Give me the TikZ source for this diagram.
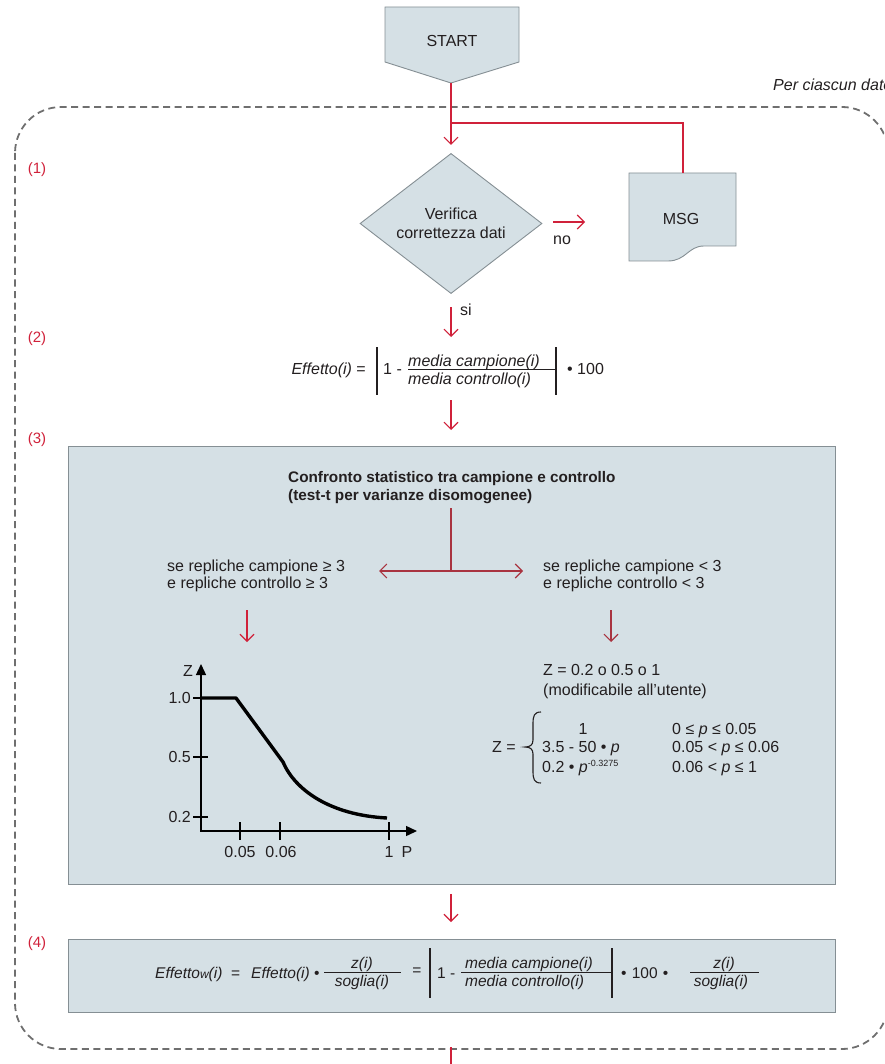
\documentclass[tikz,border=0pt]{standalone}
\usepackage{fontspec}
\setmainfont{Liberation Sans}
\usetikzlibrary{arrows.meta,shapes.geometric,calc}
\definecolor{boxfill}{HTML}{D5E0E5}
\definecolor{boxline}{HTML}{858F94}
\definecolor{flowred}{HTML}{D0213A}
\definecolor{tred}{HTML}{A93440}
\definecolor{dashgray}{HTML}{6F6F6F}
\definecolor{txt}{HTML}{231F20}
\begin{document}
\begin{tikzpicture}[x=1pt,y=-1pt,
 every node/.style={text=txt, inner sep=0pt, font=\fontsize{16}{19}\selectfont},
 shapebox/.style={draw=boxline, fill=boxfill, line width=0.9pt},
 redline/.style={draw=flowred, line width=1.1pt},
 redarrow/.style={redline, -{Straight Barb[length=7pt,width=14pt]}},
 tline/.style={draw=tred, line width=1.1pt},
 tarrow/.style={tline, -{Straight Barb[length=7pt,width=14pt]}},
 stepnum/.style={text=flowred, font=\fontsize{15}{17}\selectfont},
 fracbar/.style={draw=txt, line width=0.8pt},
 absbar/.style={draw=txt, line width=1.1pt},
 axisline/.style={draw=black, line width=1.4pt},
 tickline/.style={draw=black, line width=2.4pt},
 curveline/.style={draw=black, line width=3.4pt, line join=round},
 dashborder/.style={draw=dashgray, line width=1.8pt, dash pattern=on 7pt off 4.5pt, rounded corners=46pt},
 lbl/.style={anchor=base west},
 smallf/.style={font=\fontsize{15.5}{18}\selectfont},
]
\useasboundingbox (0,0) rectangle (884,1064);
\clip (0,0) rectangle (884,1064);

% loop border
\draw[dashborder] (15,107) rectangle (888,1049);
\node[anchor=base west, font=\fontsize{16}{19}\selectfont\itshape] (loop) at (773,91) {Per ciascun dato};

% step numbers
\node[stepnum] (n1) at (37,170) {(1)};
\node[stepnum] (n2) at (37,339) {(2)};
\node[stepnum] (n3) at (37,440) {(3)};
\node[stepnum] (n4) at (37,944) {(4)};

% START
\draw[shapebox] (385,7) -- (519,7) -- (519,62) -- (451,83) -- (385,62) -- cycle;
\node (start) at (452,41) {START};
\coordinate (starttip) at (451,83);
\coordinate (branch) at (451,123);

% decision
\node[diamond, shapebox, minimum width=182pt, minimum height=139pt, align=center] (ver) at (451,223.5) {Verifica\\correttezza dati};

% MSG document
\draw[shapebox] (629,173) -- (736,173) -- (736,246) -- (704,246) .. controls (688,246) and (686,261) .. (668,261) -- (629,261) -- cycle;
\node (msg) at (681,219) {MSG};
\coordinate (msgtop) at (683,173);

\draw[redarrow, shorten >=8pt] (starttip) -- (ver.north);
\draw[redline] (branch) -| (msgtop);

% no
\coordinate (nostart) at (553,222);
\coordinate (noend) at (585,222);
\draw[redarrow] (nostart) -- (noend);
\node (no) at (562,240) {no};

% si
\coordinate (f2top) at (451,346);
\coordinate (f2bot) at (451,395);
\draw[redarrow, shorten <=13pt, shorten >=9pt] (ver.south) -- (f2top);
\node (si) at (466,310) {si};

% formula (2)
\node[anchor=base east] (eff) at (366,374) {\itshape Effetto(i)\upshape\ =};
\draw[absbar] (377,347) -- (377,395);
\node[lbl] (one) at (383,374) {1 -};
\node[anchor=base west] (num) at (408,366) {\itshape media campione(i)};
\node[anchor=base west] (den) at (408,384.5) {\itshape media controllo(i)};
\draw[fracbar] (408,369.5) -- (556,369.5);
\draw[absbar] (556,347) -- (556,395);
\node[lbl] (cent) at (567,374) {• 100};

% box 3
\node[shapebox, anchor=north west, minimum width=767pt, minimum height=438pt] (b3) at (68,446) {};
\draw[redarrow, shorten <=5pt, shorten >=16pt] (f2bot) -- (b3.north -| f2bot);

\node[anchor=base west, font=\fontsize{15.3}{18}\selectfont\bfseries] (t1) at (288,482.5) {Confronto statistico tra campione e controllo};
\node[anchor=base west, font=\fontsize{15.3}{18}\selectfont\bfseries] (t2) at (288,500.5) {(test-t per varianze disomogenee)};

\coordinate (ttop) at (451,508);
\coordinate (tsplit) at (451,571);
\coordinate (tl) at (379,571);
\coordinate (tr) at (523,571);
\draw[tline] (ttop) -- (tsplit);
\draw[tarrow] (tsplit) -- (tl);
\draw[tarrow] (tsplit) -- (tr);

\node[lbl] (l1) at (167,571) {se repliche campione ≥ 3};
\node[lbl] (l2) at (167,588) {e repliche controllo ≥ 3};
\node[lbl] (r1) at (543,571) {se repliche campione < 3};
\node[lbl] (r2) at (543,588) {e repliche controllo < 3};

\coordinate (la0) at (247,610);
\coordinate (la1) at (247,642);
\coordinate (ra0) at (611,610);
\coordinate (ra1) at (611,642);
\draw[redarrow] (la0) -- (la1);
\draw[tarrow] (ra0) -- (ra1);

% graph
\draw[axisline, -{Triangle[length=11pt,width=10pt]}] (201,831) -- (201,664);
\draw[axisline, -{Triangle[length=11pt,width=10pt]}] (200.3,831) -- (417,831);
\foreach \yy in {698,757,817} \draw[tickline] (193,\yy) -- (208,\yy);
\foreach \xx in {240,280,389} \draw[tickline] (\xx,822) -- (\xx,840);
\node[anchor=east] (y10) at (191,698) {1.0};
\node[anchor=east] (y05) at (191,757) {0.5};
\node[anchor=east] (y02) at (191,817) {0.2};
\node (x005) at (240,852) {0.05};
\node (x006) at (281,852) {0.06};
\node (x1) at (389,852) {1};
\node (xp) at (407,852) {P};
\node (zl) at (188,671) {Z};
\draw[curveline] (201,698) -- (236,698) -- (283,762) .. controls (295,790) and (330,815) .. (387,818);

% right column
\node[lbl] (z1) at (543,675) {Z = 0.2 o 0.5 o 1};
\node[lbl] (z2) at (543,695) {(modificabile all’utente)};
\node[lbl] (zeq) at (492,752.5) {Z =};
\draw[draw=txt, line width=1.1pt] (541,712) .. controls (534,712) and (533,716) .. (533,724) -- (533,740) .. controls (533,745) and (530,747) .. (525,747) .. controls (530,747) and (533,749) .. (533,754) -- (533,771) .. controls (533,779) and (534,783) .. (541,783);
\node[anchor=base] (c1) at (583,734) {1};
\node[lbl] (c2) at (542,752.5) {3.5 - 50 • \textit{p}};
\node[lbl] (c3) at (542,772) {0.2 • \textit{p}\raisebox{6pt}{\fontsize{9}{10}\selectfont -0.3275}};
\node[lbl] (d1) at (672,734) {0 ≤ \textit{p} ≤ 0.05};
\node[lbl] (d2) at (672,752.5) {0.05 < \textit{p} ≤ 0.06};
\node[lbl] (d3) at (672,772) {0.06 < \textit{p} ≤ 1};

% box 4
\node[shapebox, anchor=north west, minimum width=767pt, minimum height=73pt] (b4) at (68,939) {};
\draw[redarrow, shorten <=9pt, shorten >=17pt] (b3.south -| ttop) -- (b4.north -| ttop);

\node[anchor=base west, smallf] (e1) at (155,978) {\itshape Effetto{\fontsize{12}{12}\selectfont w}(i)\upshape\ \ =};
\node[anchor=base west, smallf] (e2) at (251,978) {\itshape Effetto(i)\upshape\ •};
\node[anchor=base, smallf] (e3n) at (362,968) {\itshape z(i)};
\node[anchor=base, smallf] (e3d) at (362,986) {\itshape soglia(i)};
\draw[fracbar] (324,972.5) -- (401,972.5);
\node[smallf] (e4) at (417,972) {=};
\draw[absbar] (430,948) -- (430,998);
\node[anchor=base west, smallf] (e5) at (437,978) {1 -};
\node[anchor=base west, smallf] (e6n) at (465,968) {\itshape media campione(i)};
\node[anchor=base west, smallf] (e6d) at (465,986) {\itshape media controllo(i)};
\draw[fracbar] (461,972.5) -- (612,972.5);
\draw[absbar] (612,948) -- (612,998);
\node[anchor=base west, smallf] (e7) at (621,978) {•\,\,100\,\,•};
\node[anchor=base, smallf] (e8n) at (724,968) {\itshape z(i)};
\node[anchor=base, smallf] (e8d) at (721,986) {\itshape soglia(i)};
\draw[fracbar] (690,972.5) -- (759,972.5);

\coordinate (loopbot) at (451,1047);
\coordinate (exitpt) at (451,1064);
\draw[redline] (loopbot) -- (exitpt);
\end{tikzpicture}
\end{document}
